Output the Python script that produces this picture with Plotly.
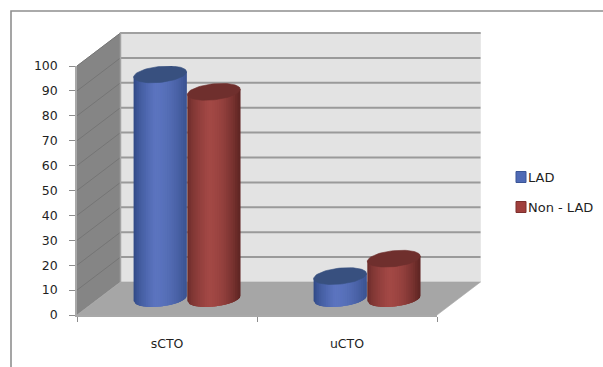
import numpy as np
import plotly.graph_objects as go

# Chart data
categories = ["sCTO", "uCTO"]
lad_values = [90, 9]
non_lad_values = [83, 16]
y_ticks = [0, 10, 20, 30, 40, 50, 60, 70, 80, 90, 100]
series_names = ["LAD", "Non - LAD"]

W, H = 603, 367
# Pixel box of the front axes
X0, X1, Y0, Y1 = 77.0, 437.0, 315.0, 66.0
PX_PER_X = (X1 - X0) / 2.0
PX_PER_Y = (Y0 - Y1) / 100.0
# Receding depth of the box, in axis units
DEPTH_X = 43.5 / PX_PER_X
DEPTH_Y = 33.0 / PX_PER_Y
X_MIN, X_MAX = -0.5, 1.5
Y_MIN, Y_MAX = 0.0, 100.0
# Full-page scale for the walls, which extend beyond the axes box
PAGE_X = [X_MIN - X0 / PX_PER_X, X_MIN + (W - X0) / PX_PER_X]
PAGE_Y = [Y_MIN - (H - Y0) / PX_PER_Y, Y_MIN + Y0 / PX_PER_Y]

BAR_W = 53.0 / PX_PER_X
CYL_B = 8.0 / PX_PER_Y      # half height of the cylinder ellipses
CYL_TILT = 2.6 / PX_PER_Y   # rise of the ellipse towards its right side
STRIPS = 30

fig = go.Figure()


def polygon(xs, ys, color, axes=("x", "y"), line_color=None, line_width=0.6):
    fig.add_trace(go.Scatter(
        x=list(xs), y=list(ys), mode="lines", fill="toself", fillcolor=color,
        line=dict(color=line_color or color, width=line_width),
        xaxis=axes[0], yaxis=axes[1], hoverinfo="skip", showlegend=False,
    ))


def segment(xs, ys, color, width):
    fig.add_trace(go.Scatter(
        x=list(xs), y=list(ys), mode="lines", line=dict(color=color, width=width),
        xaxis="x", yaxis="y", hoverinfo="skip", showlegend=False,
    ))


# Side wall, back wall and floor
polygon([X_MIN, X_MIN + DEPTH_X, X_MIN + DEPTH_X, X_MIN],
        [Y_MIN, DEPTH_Y, Y_MAX + DEPTH_Y, Y_MAX], "#858585", line_color="#8a8a8a")
polygon([X_MIN + DEPTH_X, X_MAX + DEPTH_X, X_MAX + DEPTH_X, X_MIN + DEPTH_X],
        [DEPTH_Y, DEPTH_Y, Y_MAX + DEPTH_Y, Y_MAX + DEPTH_Y], "#e3e3e3")
polygon([X_MIN, X_MIN + DEPTH_X, X_MAX + DEPTH_X, X_MAX],
        [Y_MIN, DEPTH_Y, DEPTH_Y, Y_MIN], "#a6a6a6")

# Gridlines on the side wall and the back wall
for t in y_ticks[1:]:
    segment([X_MIN, X_MIN + DEPTH_X], [t, t + DEPTH_Y], "#757575", 1)
    segment([X_MIN + DEPTH_X, X_MAX + DEPTH_X], [t + DEPTH_Y, t + DEPTH_Y], "#9a9a9a", 2)
segment([X_MIN + DEPTH_X, X_MIN + DEPTH_X, X_MAX + DEPTH_X],
        [DEPTH_Y, Y_MAX + DEPTH_Y, Y_MAX + DEPTH_Y], "#a3a3a3", 1.5)


def lerp_color(a, b, t):
    ca = [int(a[i:i + 2], 16) for i in (1, 3, 5)]
    cb = [int(b[i:i + 2], 16) for i in (1, 3, 5)]
    return "rgb(%d,%d,%d)" % tuple(round(p + (q - p) * t) for p, q in zip(ca, cb))


def shade(palette, u):
    # u runs from -1 on the left edge of the cylinder to +1 on its right edge
    left, mid, right = palette
    peak = -0.2
    if u < peak:
        return lerp_color(left, mid, ((u + 1) / (peak + 1)) ** 0.6)
    return lerp_color(mid, right, ((u - peak) / (1 - peak)) ** 1.8)


def cylinder(center, value, palette, cap):
    # The cylinder stands halfway into the depth of the floor
    base = DEPTH_Y / 2
    top = base + value
    edges = np.linspace(-1, 1, STRIPS + 1)
    half = BAR_W / 2
    for a, b in zip(edges[:-1], edges[1:]):
        # Each strip runs on under the next one, so no seams show between them
        us = np.linspace(a, min(b + 0.12, 1.0), 5)
        xs = center + half * us
        low = base + CYL_TILT * us - CYL_B * np.sqrt(np.clip(1 - us ** 2, 0, 1))
        high = top + CYL_TILT * us
        polygon(np.r_[xs, xs[::-1]], np.r_[low, high[::-1]],
                shade(palette, (a + b) / 2), axes=("x2", "y2"), line_width=0)
    phi = np.linspace(0, 2 * np.pi, 73)
    polygon(center + half * np.cos(phi),
            top + CYL_B * np.sin(phi) + CYL_TILT * np.cos(phi),
            cap, axes=("x2", "y2"))


BLUE = ("#2b4480", "#5b74bf", "#3a5290")
RED = ("#652927", "#a34845", "#5c2422")
OFFSET = DEPTH_X / 2

for i, (a, b) in enumerate(zip(lad_values, non_lad_values)):
    cylinder(i + OFFSET - BAR_W / 2 - 0.012, a, BLUE, "#38507f")
    cylinder(i + OFFSET + BAR_W / 2 - 0.008, b, RED, "#6f2f2d")

# Frame around the chart area
FRAME = dict(type="rect", xref="paper", yref="paper", x0=11 / W, x1=1.02,
             y0=-0.02, y1=1 - 11 / H, line=dict(color="#8f8f8f", width=1.6))

# Legend swatches and labels
legend_shapes, legend_labels = [], []
for name, row_y, fill, edge in zip(series_names, [177, 207],
                                   ["#4f6ab5", "#a03f3c"], ["#3a5596", "#7d2f2d"]):
    legend_shapes.append(dict(type="rect", xref="paper", yref="paper",
                              x0=516 / W, x1=526 / W,
                              y0=1 - (row_y + 5.5) / H, y1=1 - (row_y - 5.5) / H,
                              fillcolor=fill, line=dict(color=edge, width=1)))
    legend_labels.append(dict(text=name, xref="paper", yref="paper",
                              x=526 / W, y=1 - row_y / H, xanchor="left", yanchor="middle",
                              showarrow=False, font=dict(size=13, color="#1f1f1f")))

AXIS_FONT = dict(family="DejaVu Sans", size=12.5, color="#1f1f1f")
AXIS_LINE = "#a8a8a8"

fig.update_layout(
    width=W, height=H, margin=dict(l=0, r=0, t=0, b=0, autoexpand=False),
    paper_bgcolor="white", plot_bgcolor="rgba(0,0,0,0)",
    font=dict(family="DejaVu Sans"), showlegend=False,
    shapes=[FRAME] + legend_shapes, annotations=legend_labels,
    xaxis=dict(domain=[0, 1], range=PAGE_X, visible=False, fixedrange=True, automargin=False),
    yaxis=dict(domain=[0, 1], range=PAGE_Y, visible=False, fixedrange=True, automargin=False),
    xaxis2=dict(
        domain=[X0 / W, X1 / W], range=[X_MIN, X_MAX], anchor="y2", automargin=False,
        tickmode="array", tickvals=[0, 1], ticktext=categories,
        ticks="outside", ticklen=16, tickcolor="rgba(0,0,0,0)", tickfont=AXIS_FONT,
        minor=dict(tickmode="array", tickvals=[-0.5, 0.5, 1.5], ticks="outside",
                   ticklen=5, tickcolor="#8c8c8c", tickwidth=1, showgrid=False),
        showgrid=False, zeroline=False, showline=True, linecolor=AXIS_LINE, linewidth=1.5,
    ),
    yaxis2=dict(
        domain=[1 - Y0 / H, 1 - Y1 / H], range=[Y_MIN, Y_MAX], anchor="x2", automargin=False,
        tickmode="array", tickvals=y_ticks,
        ticks="outside", ticklen=6, tickcolor="#8c8c8c", tickwidth=1,
        tickfont=AXIS_FONT, ticklabelstandoff=9,
        showgrid=False, zeroline=False, showline=True, linecolor=AXIS_LINE, linewidth=1.5,
    ),
)

fig.write_html("out.html")
